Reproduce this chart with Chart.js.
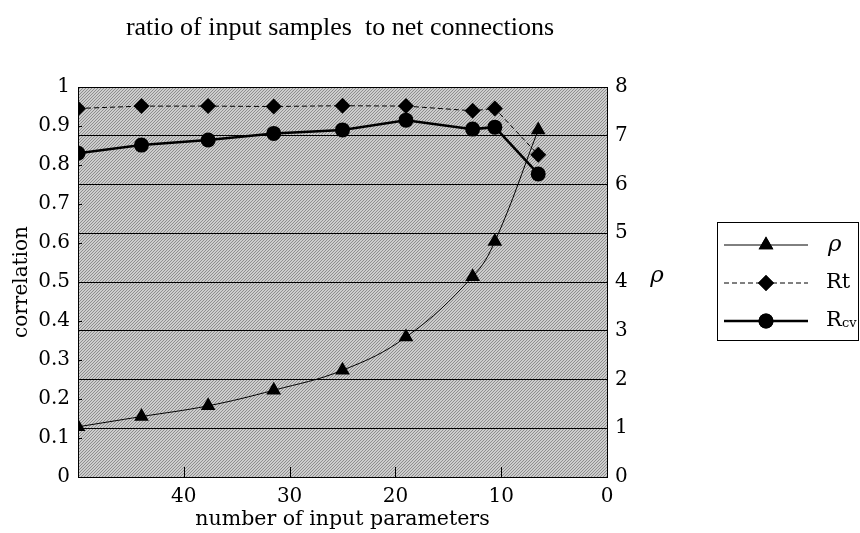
<!DOCTYPE html>
<html lang="en">
<head>
<meta charset="UTF-8">
<title>ratio of input samples to net connections</title>
<style>
  html, body { margin: 0; padding: 0; background: #fff; }
  #wrap { width: 860px; height: 533px; }
</style>
</head>
<body>
<div id="wrap"><canvas id="chart" width="860" height="533"></canvas></div>
<script src="https://cdn.jsdelivr.net/npm/chart.js@4.4.0/dist/chart.umd.min.js"></script>
<script>
// ── Values ───────────────────────────────────────────────────────────────────
const inputParams = [50, 44, 37.7, 31.5, 25, 19, 12.7, 10.6, 6.5];
const rhoValues   = [1.03, 1.24, 1.46, 1.78, 2.19, 2.87, 4.11, 4.83, 7.12];
const rtValues    = [0.945, 0.951, 0.951, 0.950, 0.952, 0.951, 0.939, 0.945, 0.826];
const rcvValues   = [0.830, 0.851, 0.864, 0.881, 0.890, 0.915, 0.892, 0.897, 0.777];
const xInnerTicks = [40, 30, 20, 10];
const yInnerTicks = [0.1, 0.2, 0.3, 0.4, 0.5, 0.6, 0.7, 0.8, 0.9];

const AXIS_FONT = "'DejaVu Serif', serif";
const toPoints = (ys) => inputParams.map((x, i) => ({ x, y: ys[i] }));

// ── Hatched grey background of the plot area ────────────────────────────────
function makeHatch(ctx) {
  const c = document.createElement("canvas");
  c.width = 6; c.height = 6;
  const g = c.getContext("2d");
  g.fillStyle = "#cdcdcd";
  g.fillRect(0, 0, 6, 6);
  g.fillStyle = "#8e8e8e";
  for (let i = 0; i < 6; i++) {
    g.fillRect(i, 5 - i, 1, 1);
    g.fillRect((i + 3) % 6, 5 - i, 1, 1);
  }
  return ctx.createPattern(c, "repeat");
}

const hatchPlugin = {
  id: "hatch",
  beforeDraw(chart) {
    const { ctx, chartArea: a } = chart;
    ctx.save();
    ctx.fillStyle = makeHatch(ctx);
    ctx.fillRect(a.left, a.top, a.right - a.left, a.bottom - a.top);
    ctx.restore();
  },
  beforeDatasetsDraw(chart) {
    // inward tick marks on the bottom and left axes
    const { ctx, chartArea: a, scales } = chart;
    ctx.save();
    ctx.strokeStyle = "#000";
    ctx.lineWidth = 1;
    ctx.beginPath();
    for (const v of xInnerTicks) {
      const px = Math.round(scales.x.getPixelForValue(v)) + 0.5;
      ctx.moveTo(px, a.bottom);
      ctx.lineTo(px, a.bottom - 10);
    }
    for (const v of yInnerTicks) {
      const py = Math.round(scales.y.getPixelForValue(v)) + 0.5;
      ctx.moveTo(a.left, py);
      ctx.lineTo(a.left + 4, py);
    }
    ctx.stroke();
    ctx.restore();
  },
};

// ── Title, right-axis label and boxed legend ────────────────────────────────
const decorPlugin = {
  id: "decor",
  afterDraw(chart) {
    const { ctx } = chart;
    ctx.save();
    ctx.fillStyle = "#000";
    ctx.textBaseline = "alphabetic";
    ctx.textAlign = "center";
    ctx.font = "26px 'Liberation Serif', serif";
    ctx.fillText("ratio of input samples  to net connections", 340, 35);

    ctx.font = `italic 23px ${AXIS_FONT}`;
    ctx.textBaseline = "middle";
    ctx.fillText("\u03c1", 657, 276);

    // legend box
    ctx.strokeStyle = "#000";
    ctx.lineWidth = 1;
    ctx.strokeRect(717.5, 222.5, 141, 118);
    const rows = [245, 283, 321];
    chart.data.datasets.forEach((ds, i) => {
      const y = rows[i];
      ctx.beginPath();
      ctx.setLineDash(ds.borderDash || []);
      ctx.lineWidth = ds.borderWidth;
      ctx.moveTo(724, y);
      ctx.lineTo(808, y);
      ctx.stroke();
      ctx.setLineDash([]);
      Chart.helpers.drawPoint(ctx, {
        pointStyle: ds.pointStyle, radius: ds.pointRadius, rotation: 0, borderWidth: 0,
      }, 766, y);
      ctx.fill();
    });
    ctx.textAlign = "left";
    ctx.font = `italic 23px ${AXIS_FONT}`;
    ctx.fillText("\u03c1", 828, rows[0]);
    ctx.font = `21px ${AXIS_FONT}`;
    ctx.fillText("Rt", 826, rows[1]);
    ctx.fillText("R", 826, rows[2]);
    ctx.font = `13px ${AXIS_FONT}`;
    ctx.fillText("cv", 842, rows[2] + 3);
    ctx.restore();
  },
};

new Chart(document.getElementById("chart"), {
  type: "line",
  data: {
    datasets: [
      {
        label: "\u03c1",
        data: toPoints(rhoValues),
        yAxisID: "y2",
        borderColor: "#000",
        borderWidth: 1,
        tension: 0.4,
        pointStyle: "triangle",
        pointRadius: 8.5,
        pointBackgroundColor: "#000",
        pointBorderWidth: 0,
      },
      {
        label: "Rt",
        data: toPoints(rtValues),
        yAxisID: "y",
        borderColor: "#000",
        borderWidth: 1,
        borderDash: [5, 3],
        pointStyle: "rectRot",
        pointRadius: 8,
        pointBackgroundColor: "#000",
        pointBorderWidth: 0,
      },
      {
        label: "Rcv",
        data: toPoints(rcvValues),
        yAxisID: "y",
        borderColor: "#000",
        borderWidth: 2.5,
        pointStyle: "circle",
        pointRadius: 7.5,
        pointBackgroundColor: "#000",
        pointBorderWidth: 0,
      },
    ],
  },
  options: {
    responsive: false,
    animation: false,
    layout: { padding: { top: 87, left: 0, right: 0, bottom: 0 } },
    plugins: { legend: { display: false }, tooltip: { enabled: false } },
    scales: {
      x: {
        type: "linear",
        reverse: true,
        min: 0,
        max: 50,
        afterFit: (s) => { s.height = 56; },
        grid: { display: false, drawTicks: false },
        border: { display: true, color: "#000", width: 1 },
        ticks: {
          stepSize: 10,
          padding: 8,
          color: "#000",
          font: { family: AXIS_FONT, size: 20 },
          callback: (v) => (v === 50 ? "" : v),
        },
        title: {
          display: true,
          text: "number of input parameters",
          color: "#000",
          font: { family: AXIS_FONT, size: 20.5 },
          padding: { top: 0, bottom: 1 },
        },
      },
      y: {
        position: "left",
        min: 0,
        max: 1,
        afterFit: (s) => { s.width = 78; },
        grid: { display: false, drawTicks: false },
        border: { display: true, color: "#000", width: 1 },
        ticks: {
          stepSize: 0.1,
          padding: 8,
          color: "#000",
          font: { family: AXIS_FONT, size: 20 },
          callback: (v) => Math.round(v * 10) / 10,
        },
        title: {
          display: true,
          text: "correlation",
          color: "#000",
          font: { family: AXIS_FONT, size: 20 },
          padding: { top: 10, bottom: 0 },
        },
      },
      y2: {
        position: "right",
        min: 0,
        max: 8,
        afterFit: (s) => { s.width = 253; },
        grid: { drawOnChartArea: true, drawTicks: false, color: "#000", lineWidth: 1 },
        border: { display: true, color: "#000", width: 1 },
        ticks: {
          stepSize: 1,
          padding: 8,
          color: "#000",
          font: { family: AXIS_FONT, size: 20 },
        },
      },
    },
  },
  plugins: [hatchPlugin, decorPlugin],
});
</script>
</body>
</html>
